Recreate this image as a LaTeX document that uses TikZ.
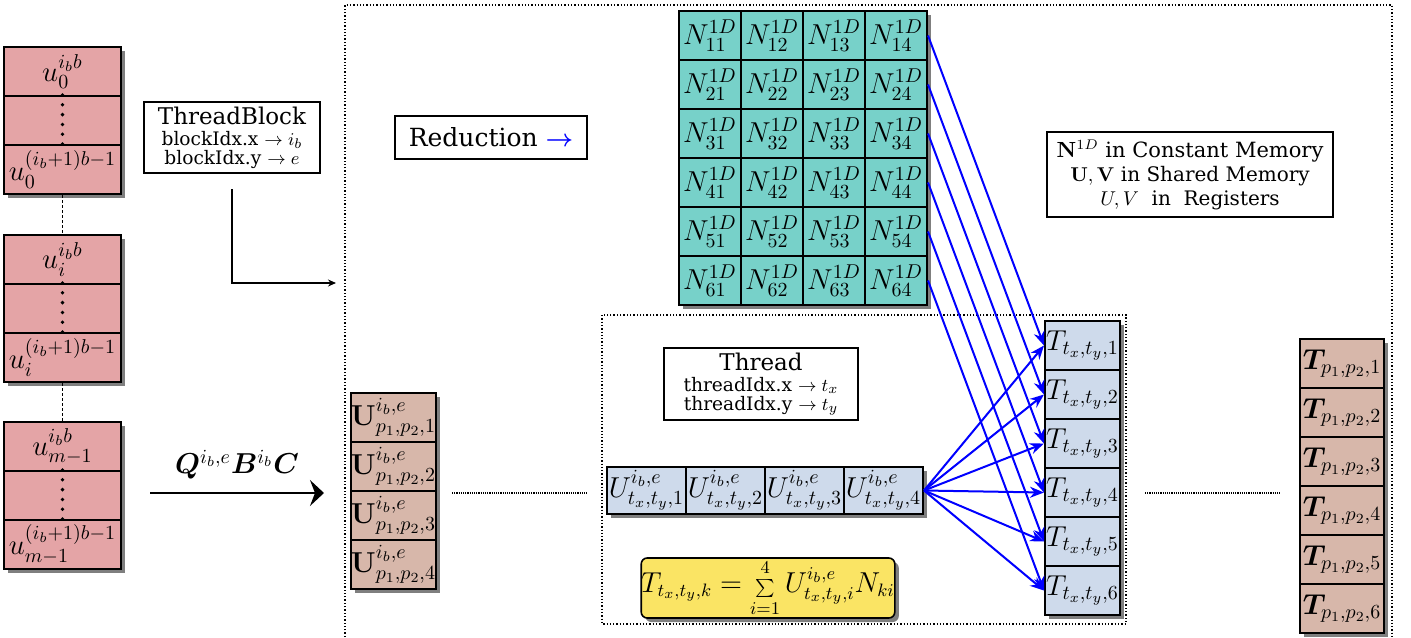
\documentclass[tikz,border=0pt]{standalone}
\usepackage[no-math]{fontspec}
\setmainfont{DejaVu Serif}
\usepackage{amsmath,bm}
\usetikzlibrary{shadows,arrows.meta}
\definecolor{pinkc}{RGB}{228,164,166}
\definecolor{cyanc}{RGB}{119,209,201}
\definecolor{brownc}{RGB}{215,183,170}
\definecolor{bluec}{RGB}{206,218,235}
\definecolor{yellowc}{RGB}{250,228,100}
\tikzset{
  cellbase/.style={draw, line width=1pt, inner sep=0pt, font=\Large,
    drop shadow={shadow xshift=2pt, shadow yshift=-2pt, fill=black, opacity=0.5}},
  lcell/.style={cellbase, fill=pinkc, minimum width=58.5pt, minimum height=24.5pt},
  ncell/.style={cellbase, fill=cyanc, minimum width=31pt, minimum height=24.5pt},
  ucell/.style={cellbase, fill=bluec, minimum width=39.5pt, minimum height=23.5pt},
  tcell/.style={cellbase, fill=bluec, minimum width=37.5pt, minimum height=24.5pt},
  bucell/.style={cellbase, fill=brownc, minimum width=41.5pt, minimum height=24.5pt},
  btcell/.style={cellbase, fill=brownc, minimum width=42pt, minimum height=24.5pt},
  infobox/.style={draw, line width=1pt, fill=white, inner sep=0pt, align=center},
  region/.style={densely dotted, line width=0.65pt},
  barrow/.style={draw=blue, line width=1pt, -{Stealth[length=7pt,width=5.5pt]}},
  vdotline/.style={line width=1.9pt, line cap=round, dash pattern=on 0pt off 4.9pt},
  linkline/.style={line width=0.6pt, dash pattern=on 1.5pt off 1pt},
  gapline/.style={line width=1pt, dash pattern=on 0.6pt off 0.5pt},
}
\begin{document}
\begin{tikzpicture}[x=0.5pt,y=-0.5pt]
\useasboundingbox (0,0) rectangle (1411,637);

% regions
\draw[region] (345,637) -- (345,5) -- (1392,5) -- (1392,637);
\draw[region] (602,315) rectangle (1126,624);

% left column
\node[lcell] (l11) at (62.5,71.5) {$u_0^{i_b b}$};
\node[lcell] (l12) at (62.5,120.5) {};
\node[lcell] (l13) at (62.5,169.5) {$u_0^{(i_b+1)b-1}$};
\node[lcell] (l21) at (62.5,259.5) {$u_i^{i_b b}$};
\node[lcell] (l22) at (62.5,308.5) {};
\node[lcell] (l23) at (62.5,357.5) {$u_i^{(i_b+1)b-1}$};
\node[lcell] (l31) at (62.5,446.5) {$u_{m-1}^{i_b b}$};
\node[lcell] (l32) at (62.5,495.5) {};
\node[lcell] (l33) at (62.5,544.5) {$u_{m-1}^{(i_b+1)b-1}$};
\foreach \b in {1,2,3}{
  \draw[vdotline] (l\b2.north) -- (l\b2.south);
}
\draw[linkline] (l13.south) -- (l21.north);
\draw[linkline] (l23.south) -- (l31.north);

% ThreadBlock
\node[infobox, minimum width=88pt, minimum height=35.5pt] (tb) at (232,137.5)
  {{\fontsize{11.5}{12.5}\selectfont ThreadBlock}\\[-1.5pt]
   {\fontsize{9.3}{10}\selectfont blockIdx.x $\rightarrow i_b$}\\[-2.5pt]
   {\fontsize{9.3}{10}\selectfont blockIdx.y $\rightarrow e$}};
\coordinate (tbend) at (336,283);
\draw[line width=0.9pt, -{Stealth[length=4pt,width=3.5pt]}] ([yshift=-7.5pt]tb.south) |- (tbend);

% Q B C arrow
\coordinate (qa) at (150,493);
\coordinate (qb) at (324,493);
\draw[line width=1pt, -{Stealth[length=7pt,width=13pt,inset=2.5pt]}] (qa) -- (qb)
  node[midway, above=3pt, font=\Large] (qbc) {$\boldsymbol{Q}^{i_b,e}\boldsymbol{B}^{i_b}\boldsymbol{C}$};

% Reduction
\node[infobox, minimum width=96pt, minimum height=21.5pt] (red) at (491,137.5)
  {\fontsize{12.5}{14}\selectfont Reduction \textcolor{blue}{$\boldsymbol{\rightarrow}$}};

% legend
\node[infobox, minimum width=143pt, minimum height=42.5pt] (leg) at (1190,174.5)
  {\fontsize{10.5}{11.7}\selectfont $\mathbf{N}^{1D}$ in Constant Memory\\
   $\mathbf{U},\mathbf{V}$ in Shared Memory\\
   $U,V$~ in~ Registers};

% N grid
\foreach \r/\y in {1/35.5,2/84.5,3/133.5,4/182.5,5/231.5,6/280.5}{
  \foreach \c/\x in {1/710,2/772,3/834,4/896}{
    \node[ncell] (n\r\c) at (\x,\y) {$N^{1D}_{\r\c}$};
  }
}

% Thread
\node[infobox, minimum width=97pt, minimum height=36pt] (thr) at (761,384)
  {{\fontsize{11.5}{12.5}\selectfont Thread}\\[-1.5pt]
   {\fontsize{9.3}{10}\selectfont threadIdx.x $\rightarrow t_x$}\\[-2.5pt]
   {\fontsize{9.3}{10}\selectfont threadIdx.y $\rightarrow t_y$}};

% U row
\foreach \i/\x in {1/646.5,2/725.5,3/804.5,4/883.5}{
  \node[ucell] (u\i) at (\x,490.5) {$U^{i_b,e}_{t_x,t_y,\i}$};
}

% formula
\node[draw, line width=0.8pt, fill=yellowc, rounded corners=3pt, inner sep=0pt,
  minimum width=125pt, minimum height=30pt, font=\fontsize{13.5}{15}\selectfont,
  drop shadow={shadow xshift=2pt, shadow yshift=-2pt, fill=black, opacity=0.5}]
  (form) at (768,588)
  {$T_{t_x,t_y,k} = \mathop{\scriptstyle\sum}\limits_{i=1}^{4} U^{i_b,e}_{t_x,t_y,i}N_{ki}$};

% T column
\foreach \k/\y in {1/345.5,2/394.5,3/443.5,4/492.5,5/541.5,6/590.5}{
  \node[tcell] (t\k) at (1082.5,\y) {$T_{t_x,t_y,\k}$};
}

% bold U column
\foreach \k/\y in {1/417.5,2/466.5,3/515.5,4/564.5}{
  \node[bucell] (bu\k) at (393.5,\y) {$\mathbf{U}^{i_b,e}_{p_1,p_2,\k}$};
}

% bold T column
\foreach \k/\y in {1/363.5,2/412.5,3/461.5,4/510.5,5/559.5,6/608.5}{
  \node[btcell] (bt\k) at (1342,\y) {$\boldsymbol{T}_{p_1,p_2,\k}$};
}

% gap lines
\coordinate (g1a) at (452,493);
\coordinate (g1b) at (588,493);
\coordinate (g2a) at (1145,493);
\coordinate (g2b) at (1281,493);
\draw[gapline] (g1a) -- (g1b);
\draw[gapline] (g2a) -- (g2b);

% blue arrows
\foreach \k in {1,...,6}{
  \draw[barrow] (n\k4.east) -- (t\k.west);
  \draw[barrow] (u4.east) -- (t\k.west);
}
\end{tikzpicture}
\end{document}
